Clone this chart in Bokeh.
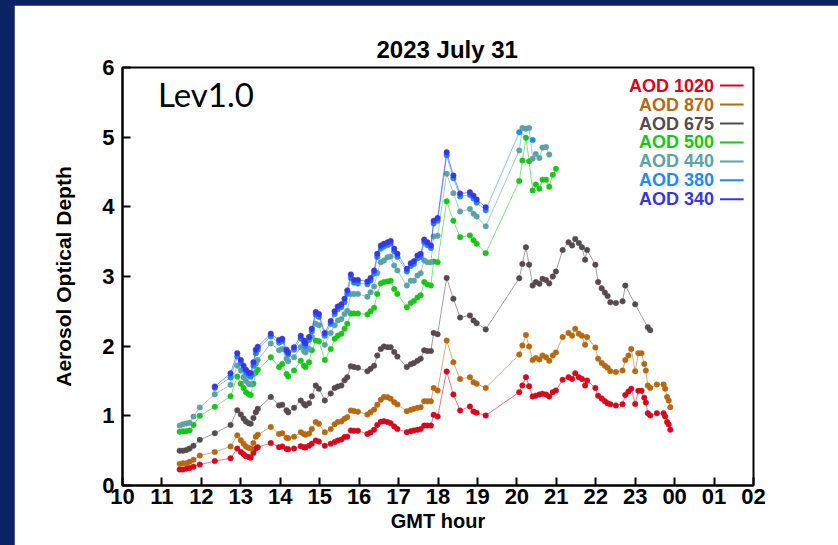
from bokeh.plotting import figure
from bokeh.models import FixedTicker, Label
from bokeh.layouts import column
from bokeh.embed import file_html
from bokeh.resources import INLINE

# ---- AOD time series, 2023 July 31 (GMT hours past 24 run into the next day) ----
gmt_hour = [
    11.45, 11.53, 11.62, 11.70, 11.80, 11.96, 12.34, 12.74, 12.91, 13.00,
    13.07, 13.13, 13.20, 13.25, 13.32, 13.38, 13.43, 13.76, 13.97, 14.05,
    14.16, 14.20, 14.35, 14.52, 14.60, 14.64, 14.73, 14.80, 14.90, 14.98,
    15.13, 15.28, 15.38, 15.46, 15.55, 15.63, 15.70, 15.79, 15.87, 15.97,
    16.21, 16.29, 16.38, 16.46, 16.55, 16.63, 16.72, 16.80, 16.89, 16.97,
    17.21, 17.31, 17.39, 17.48, 17.56, 17.65, 17.73, 17.82, 17.89, 17.99,
    18.22, 18.39, 18.56, 18.81, 18.90, 18.98, 19.21, 20.06, 20.14, 20.23,
    20.31, 20.40, 20.48, 20.57, 20.65, 20.74, 20.82, 20.91, 20.99, 21.16,
    21.31, 21.40, 21.48, 21.57, 21.65, 21.73, 21.78, 21.99, 22.06, 22.15,
    22.23, 22.30, 22.37, 22.51, 22.68, 22.75, 22.83, 22.90, 23.00, 23.08,
    23.16, 23.23, 23.27, 23.32, 23.38, 23.55, 23.72, 23.76, 23.81, 23.85,
    23.89,
]

aod_1020 = [
    0.23, 0.23, 0.24, 0.25, 0.27, 0.30, 0.35, 0.39, 0.53, 0.48,
    0.45, 0.42, 0.41, 0.40, 0.465, 0.53, 0.55, 0.61, 0.55, 0.56,
    0.525, 0.52, 0.53, 0.565, 0.55, 0.545, 0.57, 0.60, 0.646, 0.63,
    0.57, 0.60, 0.625, 0.646, 0.66, 0.695, 0.70, 0.79, 0.785, 0.785,
    0.74, 0.76, 0.80, 0.87, 0.915, 0.923, 0.91, 0.895, 0.847, 0.81,
    0.766, 0.78, 0.79, 0.80, 0.81, 0.86, 0.86, 0.86, 1.015, 0.99,
    1.636, 1.306, 1.077, 1.134, 1.062, 1.043, 1.005, 1.34, 1.435, 1.555,
    1.426, 1.277, 1.29, 1.306, 1.316, 1.306, 1.277, 1.34, 1.364, 1.517,
    1.555, 1.53, 1.61, 1.555, 1.53, 1.435, 1.507, 1.40, 1.29, 1.25,
    1.21, 1.18, 1.165, 1.15, 1.165, 1.30, 1.35, 1.39, 1.17, 1.36,
    1.36, 1.26, 1.19, 1.038, 1.005, 1.038, 1.038, 0.99, 0.91, 0.876,
    0.80,
]

aod_870 = [
    0.31, 0.32, 0.32, 0.34, 0.37, 0.43, 0.48, 0.56, 0.72, 0.65,
    0.60, 0.56, 0.54, 0.53, 0.61, 0.70, 0.73, 0.84, 0.74, 0.75,
    0.685, 0.68, 0.70, 0.765, 0.74, 0.73, 0.745, 0.81, 0.91, 0.885,
    0.765, 0.81, 0.88, 0.91, 0.92, 0.957, 0.98, 1.077, 1.07, 1.06,
    1.02, 1.05, 1.09, 1.16, 1.23, 1.27, 1.268, 1.244, 1.196, 1.163,
    1.067, 1.086, 1.10, 1.115, 1.124, 1.21, 1.21, 1.21, 1.40, 1.364,
    2.08, 1.77, 1.53, 1.555, 1.483, 1.46, 1.40, 1.88, 2.01, 2.16,
    1.995, 1.80, 1.83, 1.81, 1.866, 1.84, 1.79, 1.866, 1.91, 2.13,
    2.19, 2.15, 2.25, 2.18, 2.15, 2.02, 2.13, 1.98, 1.82, 1.76,
    1.72, 1.69, 1.64, 1.63, 1.65, 1.80, 1.866, 1.96, 1.64, 1.90,
    1.90, 1.745, 1.65, 1.435, 1.40, 1.45, 1.45, 1.39, 1.27, 1.22,
    1.125,
]

aod_675 = [
    0.50, 0.50, 0.51, 0.53, 0.57, 0.655, 0.75, 0.87, 1.08, 1.02,
    0.96, 0.92, 0.895, 0.885, 0.97, 1.05, 1.10, 1.27, 1.15, 1.16,
    1.08, 1.05, 1.115, 1.22, 1.17, 1.15, 1.18, 1.28, 1.435, 1.39,
    1.22, 1.32, 1.40, 1.42, 1.435, 1.51, 1.555, 1.71, 1.70, 1.69,
    1.64, 1.675, 1.72, 1.866, 1.96, 1.995, 1.985, 1.985, 1.915, 1.85,
    1.70, 1.74, 1.76, 1.79, 1.82, 1.94, 1.93, 1.93, 2.19, 2.17,
    2.98, 2.68, 2.41, 2.44, 2.37, 2.33, 2.24, 2.976, 3.18, 3.42,
    3.17, 2.87, 2.92, 2.895, 2.966, 2.95, 2.90, 3.00, 3.07, 3.38,
    3.49, 3.445, 3.54, 3.48, 3.42, 3.24, 3.38, 3.17, 2.92, 2.83,
    2.77, 2.72, 2.63, 2.62, 2.645, 2.87, None, None, 2.60, None,
    None, None, None, 2.27, 2.23, None, None, None, None, None,
    None,
]

aod_500 = [
    0.77, 0.78, 0.78, 0.79, 0.87, 1.00, 1.13, 1.28, 1.565, 1.46,
    1.40, 1.34, 1.31, 1.30, 1.46, 1.62, 1.66, 1.84, 1.70, 1.745,
    1.60, 1.565, 1.65, 1.79, 1.72, 1.70, 1.77, 1.94, 2.08, 2.07,
    1.80, 1.96, 2.105, 2.15, 2.18, 2.25, 2.32, 2.47, 2.47, 2.47,
    2.455, 2.50, 2.55, 2.75, 2.90, 2.92, 2.93, 2.94, 2.82, 2.75,
    2.56, 2.62, 2.65, 2.70, 2.73, 2.92, 2.885, 2.87, 3.215, 3.205,
    4.08, 3.80, 3.565, 3.59, 3.52, 3.47, 3.335, 4.37, 4.665, 4.99,
    4.655, 4.234, 4.32, 4.26, 4.39, 4.39, 4.29, 4.46, 4.545,
] + [None] * 32

aod_440 = [
    0.86, 0.88, 0.89, 0.90, 0.99, 1.12, 1.31, 1.445, 1.72, 1.65,
    1.555, 1.50, 1.46, 1.45, 1.60, 1.745, 1.80, 2.04, 1.94, 1.96,
    1.82, 1.785, 1.84, 1.985, 1.93, 1.91, 1.96, 2.13, 2.32, 2.30,
    2.02, 2.19, 2.30, 2.37, 2.39, 2.46, 2.51, 2.75, 2.75, 2.75,
    2.71, 2.775, 2.856, 3.05, 3.205, 3.23, 3.277, 3.287, 3.158, 3.086,
    2.87, 2.94, 2.94, 3.014, 3.048, 3.23, 3.205, 3.205, 3.574, 3.584,
    4.474, 4.196, 3.933, 3.97, 3.90, 3.86, 3.72, 4.81, 5.13, 5.12,
    5.13, 4.69, 4.76, 4.70, 4.85, 4.86, 4.75,
] + [None] * 34

aod_380 = [None] * 6 + [
    1.40, 1.55, 1.85, 1.76,
    1.68, 1.62, 1.58, 1.56, 1.72, 1.90, 1.95, 2.14, 2.05, 2.07,
    1.92, 1.88, 1.95, 2.11, 2.04, 2.00, 2.09, 2.21, 2.45, 2.42,
    2.15, 2.32, 2.46, 2.53, 2.56, 2.63, 2.75, 2.98, 2.91, 2.90,
    2.89, 2.94, 3.04, 3.28, 3.40, 3.43, 3.45, 3.47, 3.36, 3.28,
    3.07, 3.15, 3.18, 3.26, 3.28, 3.49, 3.45, 3.41, 3.76, 3.80,
    4.74, 4.41, 4.15, 4.17, 4.12, 4.06, 3.95, 5.07, None, None,
    None, 4.96,
] + [None] * 39

aod_340 = [None] * 6 + [
    1.42, 1.61, 1.90, 1.80,
    1.72, 1.66, 1.62, 1.61, 1.77, 1.95, 1.99, 2.18, 2.09, 2.105,
    1.95, 1.91, 1.985, 2.15, 2.08, 2.04, 2.13, 2.25, 2.49, 2.46,
    2.19, 2.36, 2.50, 2.57, 2.60, 2.68, 2.80, 3.03, 2.95, 2.95,
    2.93, 2.98, 3.086, 3.325, 3.445, 3.47, 3.49, 3.51, 3.40, 3.325,
    3.11, 3.19, 3.22, 3.30, 3.325, 3.53, 3.49, 3.445, 3.80, 3.84,
    4.785, 4.45, 4.19, 4.21, 4.16, 4.105, 3.995,
] + [None] * 44

channel_labels = ["AOD 1020", "AOD 870", "AOD 675", "AOD 500", "AOD 440", "AOD 380", "AOD 340"]
channel_values = [aod_1020, aod_870, aod_675, aod_500, aod_440, aod_380, aod_340]
channel_colors = ["#d9061c", "#b8680f", "#574a4f", "#14c814", "#5aa2a5", "#1e8aff", "#3737e4"]

hour_ticks = list(range(10, 27))
hour_tick_labels = {h: "%02d" % (h % 24) for h in hour_ticks}
aod_ticks = [0, 1, 2, 3, 4, 5, 6]

SANS = "Liberation Sans"

p = figure(
    width=824, height=540,
    x_range=(10, 26), y_range=(0, 6),
    output_backend="svg", toolbar_location=None,
    min_border_left=108, min_border_right=85,
    min_border_top=62, min_border_bottom=60,
    background_fill_color="white", border_fill_color="white",
    title="2023 July 31",
)
p.margin = (5, 0, 0, 14)
p.grid.visible = False
p.outline_line_color = "black"
p.outline_line_width = 2

# title sits left-anchored so its centre lands a little right of the frame centre
p.title.align = "left"
p.title.offset = 254
p.title.text_font = SANS
p.title.text_font_style = "bold"
p.title.text_font_size = "24px"
p.title.text_color = "black"
p.title.standoff = 10

for ax in (p.xaxis, p.yaxis):
    ax.axis_line_width = 2
    ax.axis_line_color = "black"
    ax.major_tick_line_width = 2
    ax.major_tick_line_color = "black"
    ax.major_tick_in = 8
    ax.major_tick_out = 0
    ax.minor_tick_line_color = None
    ax.major_label_text_font = SANS
    ax.major_label_text_font_style = "bold"
    ax.major_label_text_font_size = "22px"
    ax.major_label_text_color = "black"
    ax.axis_label_text_font = SANS
    ax.axis_label_text_font_style = "bold"
    ax.axis_label_text_color = "black"

p.xaxis.ticker = FixedTicker(ticks=hour_ticks)
p.xaxis.major_label_overrides = hour_tick_labels
p.xaxis.major_label_standoff = 3
p.xaxis.axis_label = "GMT hour"
p.xaxis.axis_label_text_font_size = "20px"
p.xaxis.axis_label_standoff = 3

p.yaxis.ticker = FixedTicker(ticks=aod_ticks)
p.yaxis.major_label_standoff = 8
p.yaxis.axis_label = "Aerosol Optical Depth"
p.yaxis.axis_label_text_font_size = "21px"
p.yaxis.axis_label_standoff = 24

# one line + dot series per wavelength; gaps are skipped so each line stays joined
for vals, color in zip(channel_values, channel_colors):
    xs = [t for t, v in zip(gmt_hour, vals) if v is not None]
    ys = [v for v in vals if v is not None]
    p.line(xs, ys, line_color=color, line_width=1, line_alpha=0.55)
    p.scatter(xs, ys, size=5.5, fill_color=color, line_color=color, line_width=0.5)

p.add_layout(Label(x=10.9, y=5.62, text="Lev1.0", text_align="left",
                   text_baseline="middle", text_font="Lato",
                   text_font_size="33px", text_color="black"))

# key in the upper right: coloured name then a short sample stroke
key_text_x = 25.0
key_line_x0, key_line_x1 = 25.15, 25.75
key_top, key_step = 5.74, 0.272
key_y = [key_top - i * key_step for i in range(len(channel_labels))]
for name, color, y in zip(channel_labels, channel_colors, key_y):
    p.add_layout(Label(x=key_text_x, y=y, text=name, text_align="right",
                       text_baseline="middle", text_font=SANS,
                       text_font_style="bold", text_font_size="18px",
                       text_color=color))
p.segment(x0=[key_line_x0] * len(key_y), y0=key_y,
          x1=[key_line_x1] * len(key_y), y1=key_y,
          line_color=channel_colors, line_width=2)

page = column(p, styles={"background-color": "#0c2263"}, width=838, height=545)

open("out.html", "w").write(file_html(page, INLINE))
